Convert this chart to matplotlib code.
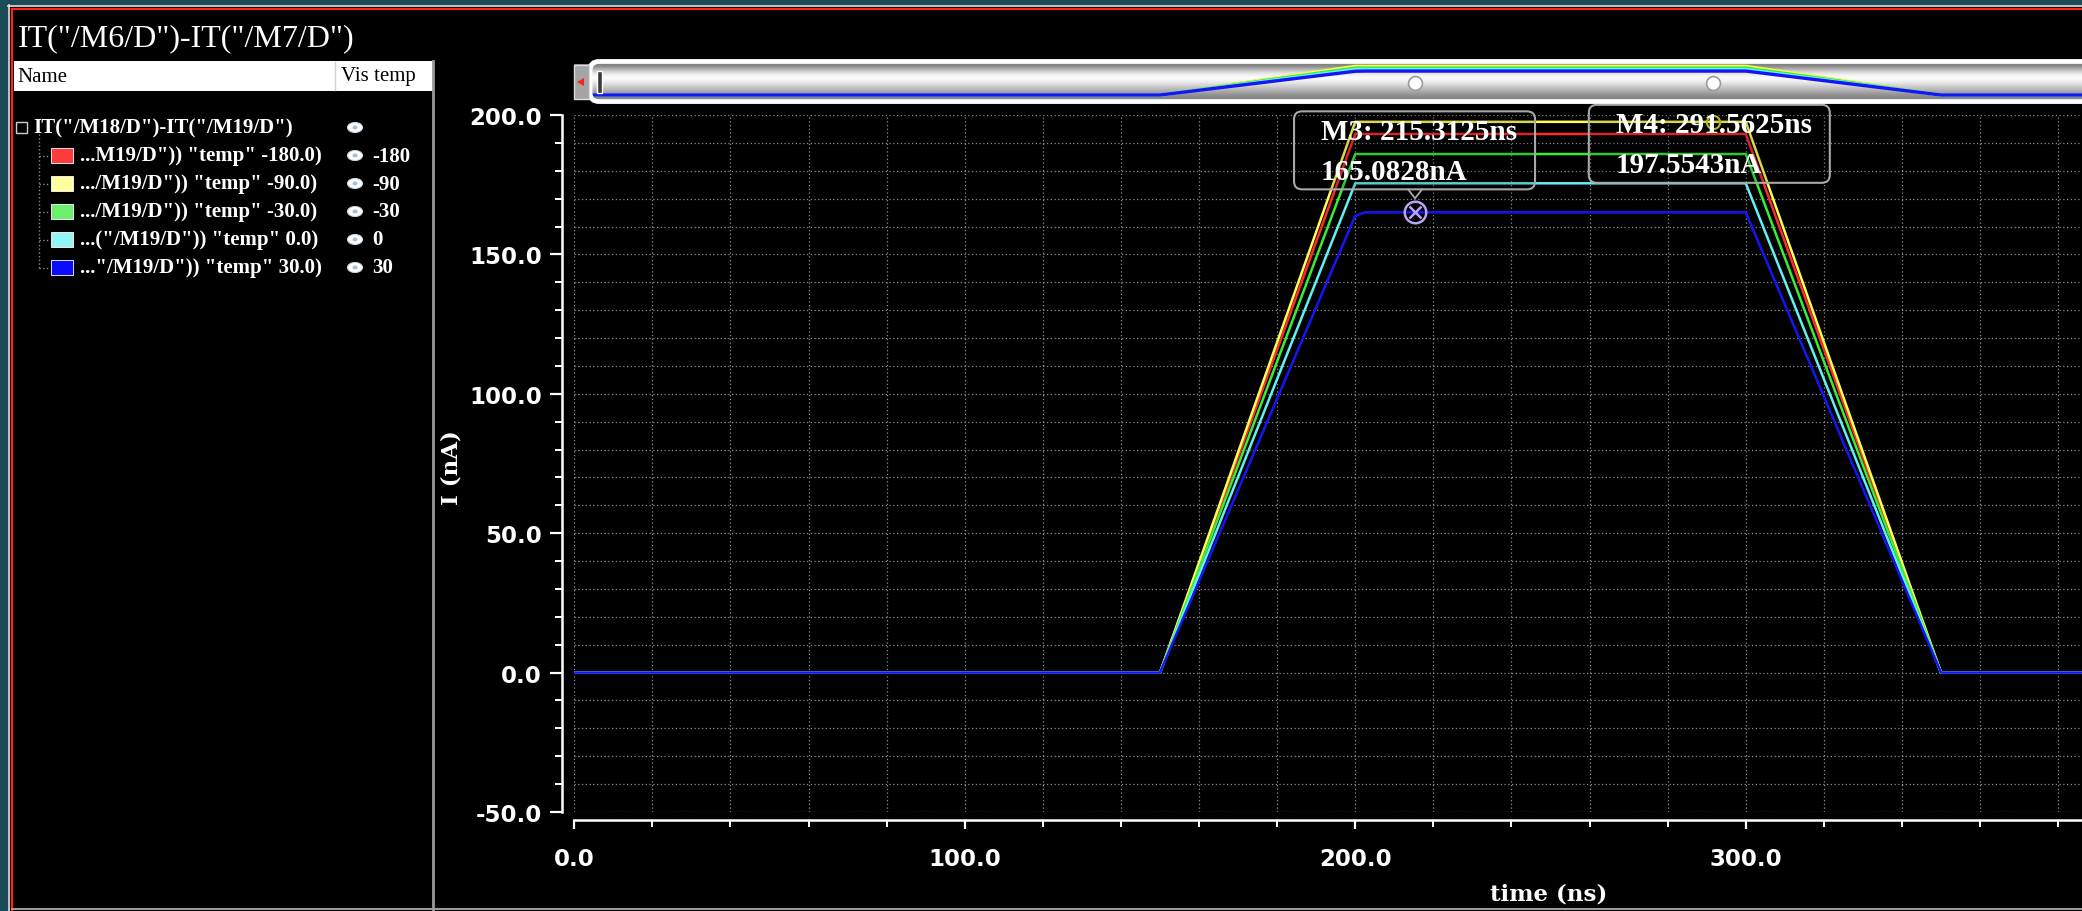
import matplotlib
matplotlib.use("Agg")
import matplotlib.pyplot as plt
import matplotlib.transforms as mtransforms
from matplotlib.patches import Rectangle, FancyBboxPatch, Ellipse, Polygon
from matplotlib.lines import Line2D
from matplotlib.ticker import MultipleLocator, FormatStrFormatter
import numpy as np

W, H = 2082, 912

# IT("/M18/D")-IT("/M19/D") transient, one trace per temperature
time_ns = [0, 150, 200, 202.5, 300, 350, 400]
i_m180 = [0, 0, 193.2, 193.2, 193.2, 0, 0]
i_m90 = [0, 0, 197.5543, 197.5543, 197.5543, 0, 0]
i_m30 = [0, 0, 186.0, 186.0, 186.0, 0, 0]
i_0 = [0, 0, 175.5, 175.5, 175.5, 0, 0]
i_30 = [0, 0, 163.8, 165.0828, 165.0828, 0, 0]
traces = [i_m180, i_m90, i_m30, i_0, i_30]

temps = ["-180", "-90", "-30", "0", "30"]
leaf_names = ['...M19/D")) "temp" -180.0)', '.../M19/D")) "temp" -90.0)',
              '.../M19/D")) "temp" -30.0)', '...("/M19/D")) "temp" 0.0)',
              '..."/M19/D")) "temp" 30.0)']
line_colors = ["#ff2b2b", "#ffff55", "#36ee36", "#60f2f2", "#1515f5"]
swatch_colors = ["#ff3c3c", "#ffff9c", "#6cef6c", "#92f6f6", "#0b0bff"]

# waveform markers
mk_names = ["M3", "M4"]
mk_time = [215.3125, 291.5625]
mk_value = [165.0828, 197.5543]

fig = plt.figure(figsize=(W / 100, H / 100), dpi=100, facecolor="#1c4b58")
# pixel frame, origin at top-left
px = mtransforms.Affine2D().scale(1 / W, -1 / H).translate(0, 1) + fig.transFigure


def box(x, y, w, h, z=-4, **kw):
    p = Rectangle((x, y), w, h, transform=px, zorder=z, **kw)
    fig.add_artist(p)
    return p


def seg(xs, ys, z=-3, **kw):
    fig.add_artist(Line2D(xs, ys, transform=px, zorder=z, **kw))


def label(x, y, s, z=5, **kw):
    fig.text(x, y, s, transform=px, zorder=z, **kw)


def eye(x, y):
    fig.add_artist(Ellipse((x, y), 15, 10, transform=px, fc="white",
                           ec="#c8d4e0", lw=0.8, zorder=-2))
    fig.add_artist(Ellipse((x, y), 5, 4, transform=px, fc="#a9bfd6",
                           ec="none", zorder=-1))


# window frame
box(8, 6, W, H, z=-5, fc="black", ec="none")
seg([8.5, 8.5], [6, H], color="#e6e6e6", lw=1.2)
seg([8, W], [6.5, 6.5], color="#e6e6e6", lw=1.2)
seg([11.5, 11.5], [9.5, H], color="#ff2020", lw=1.6)
seg([11.5, W], [9.5, 9.5], color="#ff2020", lw=1.6)
seg([12, W], [910, 910], color="#9a9a9a", lw=1.5)

serif = "Liberation Serif"
label(18, 39, 'IT("/M6/D")-IT("/M7/D")', color="white", fontsize=23,
      family=serif, va="center")

# signal browser panel
box(14, 62, 419, 30, z=-3, fc="white", ec="none")
seg([335, 335], [63, 91], color="#d0d0d0", lw=1)
label(17, 77, "Name", color="black", fontsize=15, family=serif, va="center")
label(341, 77, "Vis temp", color="black", fontsize=15, family=serif, va="center")
seg([432.5, 432.5], [62, H], color="#9a9a9a", lw=2)

root_y = 128.5
row_y = root_y + 28 * np.arange(1, len(temps) + 1)
box(16, 122.5, 11, 11, z=-2, fc="black", ec="#cfcfcf", lw=1)
seg([18.5, 24.5], [128, 128], color="#cfcfcf", lw=1)
label(33, root_y, 'IT("/M18/D")-IT("/M19/D")', color="white", fontsize=15,
      family=serif, weight="bold", va="center")
eye(355, root_y)
seg([39, 39], [135, row_y[-1]], color="#8a8a8a", lw=1, ls=":")
for y, name, t, sc in zip(row_y, leaf_names, temps, swatch_colors):
    seg([39, 49], [y, y], color="#8a8a8a", lw=1, ls=":")
    box(51, y - 7.5, 22, 15, z=-2, fc=sc, ec="white", lw=0.6)
    label(80, y, name, color="white", fontsize=15, family=serif,
          weight="bold", va="center")
    eye(355, y)
    label(372, y, t, color="white", fontsize=15, family=serif,
          weight="bold", va="center")

# main waveform axes
x0_px, ytop_px, ybot_px = 574.2, 116, 813
ax = fig.add_axes([x0_px / W, (H - ybot_px) / H, (W - x0_px) / W,
                   (ybot_px - ytop_px) / H])
ax.set_facecolor("black")
for tr, c in zip(traces, line_colors):
    ax.plot(time_ns, tr, color=c, lw=1.8)
ax.set_xlim(0, 386.1)
ax.set_ylim(-50, 200)

ax.xaxis.set_major_locator(MultipleLocator(100))
ax.xaxis.set_minor_locator(MultipleLocator(20))
ax.yaxis.set_major_locator(MultipleLocator(50))
ax.yaxis.set_minor_locator(MultipleLocator(10))
ax.xaxis.set_major_formatter(FormatStrFormatter("%.1f"))
ax.yaxis.set_major_formatter(FormatStrFormatter("%.1f"))
ax.grid(which="both", color="#8f8f8f", ls=(0, (1, 2)), lw=0.9)
ax.set_axisbelow(True)

for s in ("top", "right"):
    ax.spines[s].set_visible(False)
ax.spines["left"].set_position(("outward", 9))
ax.spines["bottom"].set_position(("outward", 5.8))
for s in ("left", "bottom"):
    ax.spines[s].set_color("white")
    ax.spines[s].set_linewidth(1.8)
ax.tick_params(axis="y", which="major", length=8.4, width=1.6, pad=6,
               colors="white", labelsize=16.5)
ax.tick_params(axis="y", which="minor", length=4.8, width=1.4, colors="white")
ax.tick_params(axis="x", which="major", length=6.5, width=1.6, pad=13,
               colors="white", labelsize=16.5)
ax.tick_params(axis="x", which="minor", length=5, width=1.4, colors="white")
for tl in ax.get_xticklabels() + ax.get_yticklabels():
    tl.set_fontweight("bold")

label(1549, 895, "time (ns)", color="white", fontsize=16.5,
      family="DejaVu Serif", weight="bold", ha="center", va="center")
label(451.7, 467.5, "I (nA)", color="white", fontsize=16.5,
      family="DejaVu Serif", weight="bold", rotation=90, ha="center",
      va="center")

# marker symbols on the traces
ax.plot(mk_time[0], mk_value[0], "o", ms=15.5, mfc="none", mec="#b9a3f5",
        mew=1.8, zorder=6)
ax.plot(mk_time[0], mk_value[0], "x", ms=9, mec="#b9a3f5", mew=1.8, zorder=6)
ax.plot(mk_time[1], mk_value[1], "o", ms=9.5, mfc="none", mec="#d6d629",
        mew=1.5, zorder=6)

# marker readout boxes, placed relative to each marker point
box_offsets = [(-121, -101), (-124, -17)]
for name, t, v, (dx, dy) in zip(mk_names, mk_time, mk_value, box_offsets):
    mx, my = ax.transData.transform((t, v))
    my = H - my
    bx, by = mx + dx, my + dy
    fig.add_artist(FancyBboxPatch((bx, by), 241, 78,
                                  boxstyle="round,pad=0,rounding_size=8",
                                  transform=px, fc=(0, 0, 0, 0.15),
                                  ec="#a8a8a8", lw=1.5, zorder=3))
    label(bx + 27, by + 20, f"{name}: {t:.4f}ns", color="white",
          fontsize=21, family=serif, weight="bold", va="center")
    label(bx + 27, by + 60, f"{v:.4f}nA", color="white", fontsize=21,
          family=serif, weight="bold", va="center")
    if by + 78 < my:
        seg([mx - 7, mx, mx + 7], [by + 78, by + 87, by + 78], z=4,
            color="#a8a8a8", lw=1.3)

# overview scrollbar above the plot
sb = fig.add_axes([x0_px / W, (H - 100) / H, (W - x0_px) / W, 35 / H])
xl, yl = ax.get_xlim(), (-27.6, 213.8)
shade = np.array([0.5, 0.66, 0.82, 0.93, 0.99, 0.97, 0.9, 0.82, 0.74,
                  0.66, 0.58, 0.52])[:, None]
sb.imshow(shade, cmap="gray", vmin=0, vmax=1, extent=(*xl, *yl),
          aspect="auto", interpolation="bicubic", zorder=0)
for tr, c in zip(traces, line_colors):
    sb.plot(time_ns, tr, color=c, lw=2.4)
knob_tf = mtransforms.blended_transform_factory(sb.transData, sb.transAxes)
sb.plot(mk_time, [0.47] * len(mk_time), "o", ms=10, mfc="white",
        mec="#9a9a9a", mew=1.2, transform=knob_tf)
sb.set_xlim(xl)
sb.set_ylim(yl)
sb.axis("off")

fig.add_artist(FancyBboxPatch((590, 62.5), W - 560, 40,
                              boxstyle="round,pad=0,rounding_size=9",
                              transform=px, fc="none", ec="white", lw=3.5,
                              zorder=3))
box(574, 66, 15, 34, z=4, fc="#a4a4a4", ec="#dcdcdc", lw=1)
fig.add_artist(Polygon([(577, 83), (584, 79), (584, 87)], closed=True,
                       transform=px, fc="#ff2020", ec="none", zorder=5))
box(597, 72, 5, 22, z=4, fc="#3a3a3a", ec="white", lw=1)

fig.savefig("out.png", dpi=100, facecolor=fig.get_facecolor())
